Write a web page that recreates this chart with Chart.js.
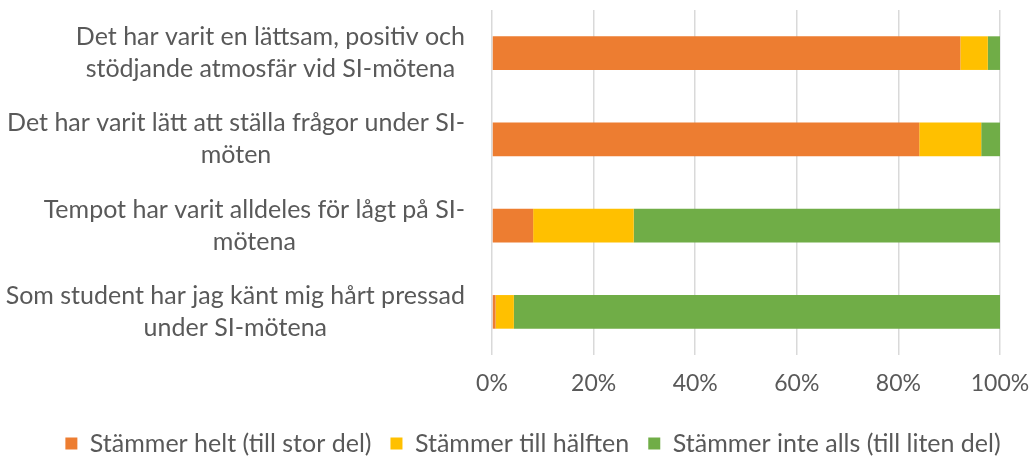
<!DOCTYPE html>
<html>
<head>
<meta charset="utf-8">
<script src="https://cdn.jsdelivr.net/npm/chart.js@4"></script>
<style>
    html, body { margin: 0; padding: 0; background: #ffffff; }
    #wrap { width: 1032px; height: 461px; }
</style>
</head>
<body>
<div id="wrap"><canvas id="siChart" width="1032" height="461"></canvas></div>
<script>
// Statements (wrapped the same way as in the original)
const statements = [
    ["Det har varit en lättsam, positiv och", "stödjande atmosfär vid SI-mötena"],
    ["Det har varit lätt att ställa frågor under SI-", "möten"],
    ["Tempot har varit alldeles för lågt på SI-", "mötena"],
    ["Som student har jag känt mig hårt pressad", "under SI-mötena"]
];

// Share of answers, percent
const helt = [92.2, 84.1, 8.1, 0.7];
const halften = [5.4, 12.2, 19.8, 3.6];
const inteAlls = [2.4, 3.7, 72.1, 95.7];

const seriesNames = ["Stämmer helt (till stor del)", "Stämmer till hälften", "Stämmer inte alls (till liten del)"];
const seriesColors = ["#ED7D31", "#FFC000", "#70AD47"];
const xTicks = [0, 20, 40, 60, 80, 100];

const textColor = "#595959";
const fontFamily = "Lato, 'Open Sans', sans-serif";
const labelSize = 25;
const labelLineGap = 32;

const datasets = [helt, halften, inteAlls].map((values, i) => ({
    label: seriesNames[i],
    data: values,
    backgroundColor: seriesColors[i],
    borderWidth: 0,
    barPercentage: 0.39,
    categoryPercentage: 1.0,
}));

// Excel-style category labels: block right-aligned, lines centred inside the block
const categoryLabels = {
    id: "categoryLabels",
    afterDraw(chart) {
        const ctx = chart.ctx;
        const yScale = chart.scales.y;
        const rightEdge = chart.chartArea.left - 27;
        ctx.save();
        ctx.font = `${labelSize}px ${fontFamily}`;
        ctx.fillStyle = textColor;
        ctx.textAlign = "center";
        ctx.textBaseline = "middle";
        statements.forEach((lines, i) => {
            const y = yScale.getPixelForTick(i);
            const widest = Math.max(...lines.map((l) => ctx.measureText(l).width));
            const cx = rightEdge - widest / 2;
            lines.forEach((line, j) => {
                ctx.fillText(line, cx, y + (j - (lines.length - 1) / 2) * labelLineGap);
            });
        });
        ctx.restore();
    },
};

new Chart(document.getElementById("siChart").getContext("2d"), {
    type: "bar",
    data: { labels: statements, datasets: datasets },
    plugins: [categoryLabels],
    options: {
        indexAxis: "y",
        responsive: false,
        animation: false,
        layout: { padding: { top: 10, right: 0, left: 34, bottom: 0 } },
        scales: {
            x: {
                stacked: true,
                min: 0,
                max: 100,
                afterBuildTicks: (scale) => {
                    scale.ticks = xTicks.map((v) => ({ value: v }));
                },
                afterFit: (scale) => {
                    scale.paddingRight = 32;
                },
                grid: { color: "#D9D9D9", lineWidth: 1.5, drawTicks: false },
                border: { display: false },
                ticks: {
                    padding: 17,
                    color: textColor,
                    font: { family: fontFamily, size: 23, lineHeight: 1.0 },
                    callback: (v) => v + "%",
                },
            },
            y: {
                stacked: true,
                grid: { display: false, drawTicks: false },
                border: { display: false },
                ticks: { display: false },
                afterFit: (scale) => {
                    scale.width = 458;
                    scale.paddingTop = 0;
                    scale.paddingBottom = 0;
                },
            },
        },
        plugins: {
            legend: {
                position: "bottom",
                maxHeight: 49,
                labels: {
                    boxWidth: 12,
                    boxHeight: 12,
                    padding: 19,
                    color: textColor,
                    font: { family: fontFamily, size: 25, lineHeight: 1.0 },
                },
            },
            tooltip: { enabled: false },
        },
    },
});
</script>
</body>
</html>
